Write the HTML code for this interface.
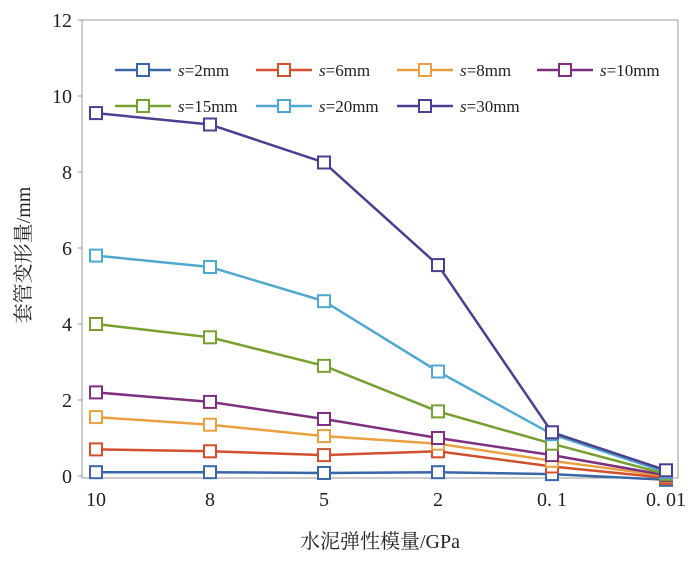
<!DOCTYPE html>
<html><head><meta charset="utf-8"><style>
body{margin:0;background:#fff;}
svg text{font-family:"Liberation Serif","Noto Serif CJK SC",serif;fill:#222;}
</style></head><body>
<svg id="chart" width="700" height="562" xmlns="http://www.w3.org/2000/svg">
<rect x="82" y="20" width="596" height="458" fill="none" stroke="#999" stroke-width="1"/>
<g id="yticks"></g><g id="xticks"></g><g id="series"></g><g id="legend"></g>
<text transform="translate(30,255) rotate(-90)" text-anchor="middle" font-size="20">套管变形量/mm</text>
<text x="380" y="548" text-anchor="middle" font-size="20">水泥弹性模量/GPa</text>
</svg>
<script>
const categories=["10","8","5","2","0.1","0.01"];
const yTicks=[0,2,4,6,8,10,12];
const seriesNames=["s=2mm","s=6mm","s=8mm","s=10mm","s=15mm","s=20mm","s=30mm"];
const s2=[0.1,0.1,0.08,0.1,0.05,-0.1];
const s6=[0.7,0.65,0.55,0.65,0.25,-0.05];
const s8=[1.55,1.35,1.05,0.85,0.4,0];
const s10=[2.2,1.95,1.5,1.0,0.55,0.02];
const s15=[4.0,3.65,2.9,1.7,0.85,0.05];
const s20=[5.8,5.5,4.6,2.75,1.1,0.1];
const s30=[9.55,9.25,8.25,5.55,1.15,0.15];
const allSeries=[s2,s6,s8,s10,s15,s20,s30];
const colors=["#3a66a8","#d05030","#e8a040","#7f2f7f","#76a030","#50a8d0","#4c3f8f"];
const NS="http://www.w3.org/2000/svg";
const X=i=>96+i*114;
const Y=v=>476-v*38;
function mk(tag,attrs,parent){const e=document.createElementNS(NS,tag);for(const k in attrs)e.setAttribute(k,attrs[k]);parent.appendChild(e);return e;}
const yt=document.getElementById('yticks');
yTicks.forEach(v=>{
  const t=mk('text',{x:72,y:Y(v)+7,'text-anchor':'end','font-size':20},yt);
  
  
  t.textContent=v;
  const l=mk('line',{x1:78,x2:82,y1:Y(v),y2:Y(v),stroke:'#999'},yt);
  
  
});
const xt=document.getElementById('xticks');
categories.forEach((c,i)=>{
  const t=mk('text',{x:X(i),y:506,'text-anchor':'middle','font-size':20},xt);
  
  
  t.textContent=c.replace('.','. ');
});
const sg=document.getElementById('series');
allSeries.forEach((s,k)=>{
  const g=mk('g',{},sg);
  
  
  const p=mk('polyline',{points:s.map((v,i)=>X(i)+','+Y(v)).join(' '),fill:'none',stroke:colors[k],'stroke-width':2.5},g);
  
  
  s.forEach((v,i)=>{
    const r=mk('rect',{x:X(i)-6,y:Y(v)-6,width:12,height:12,fill:'#fff',stroke:colors[k],'stroke-width':2},g);
    
    
  });
});
const lg=document.getElementById('legend');
const lx=[115,256,397,537],ly=[70,106];
seriesNames.forEach((n,k)=>{
  const x=lx[k%4],y=ly[Math.floor(k/4)];
  const g=mk('g',{},lg);
  
  
  mk('line',{x1:x,x2:x+56,y1:y,y2:y,stroke:colors[k],'stroke-width':2.5},g);
  mk('rect',{x:x+22,y:y-6,width:12,height:12,fill:'#fff',stroke:colors[k],'stroke-width':2},g);
  const t=mk('text',{x:x+63,y:y+6,'font-size':17},g);
  t.innerHTML='<tspan font-style="italic">s</tspan>'+n.slice(1);
});
</script>
</body></html>
